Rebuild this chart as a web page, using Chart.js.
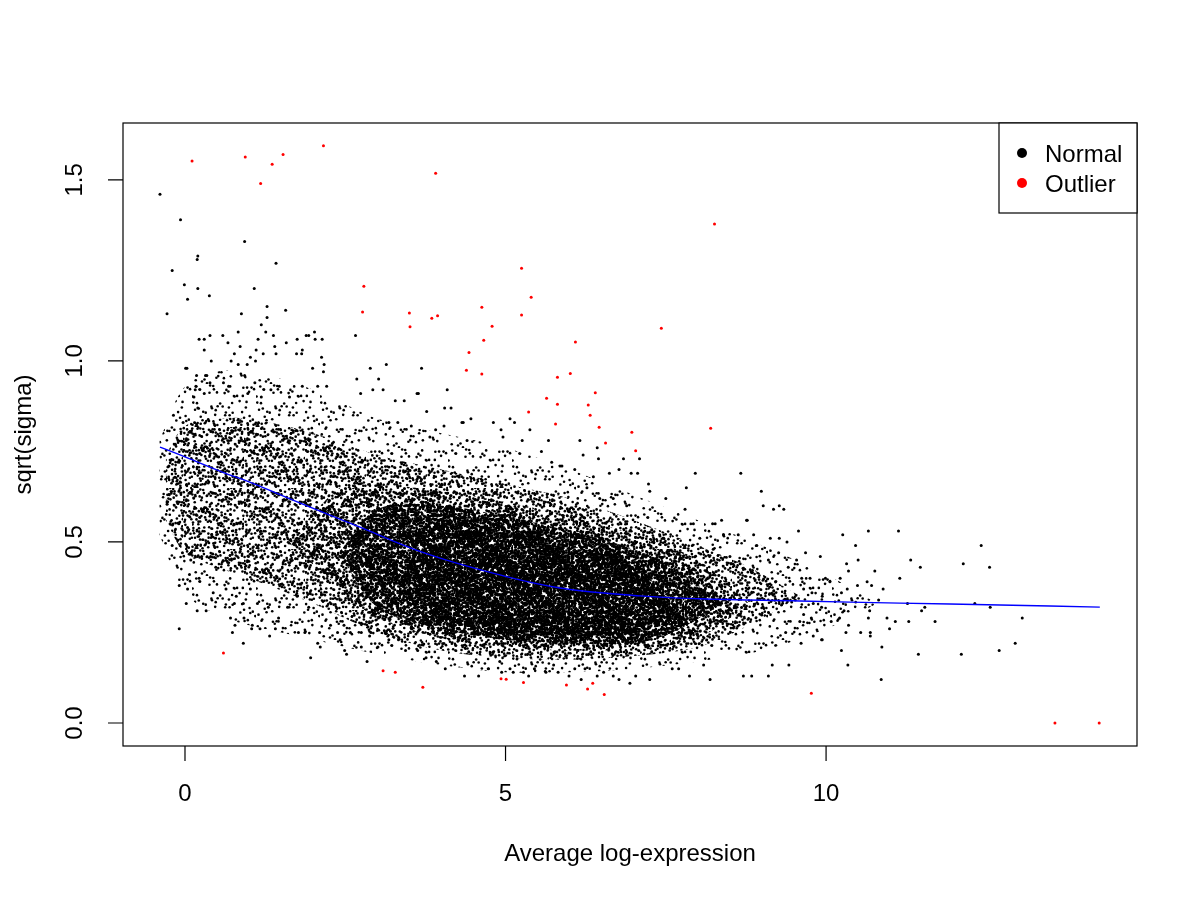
<!DOCTYPE html>
<html>
<head>
<meta charset="utf-8">
<title>sqrt(sigma) vs average log-expression</title>
<script src="https://cdn.jsdelivr.net/npm/chart.js@4.4.1/dist/chart.umd.min.js"></script>
<style>
  html, body { margin: 0; padding: 0; background: #fff; }
  canvas { display: block; }
</style>
</head>
<body>
<canvas id="saChart" width="1200" height="900"></canvas>
<script>
// axis ticks
const xTicks = [0, 5, 10];
const yTicks = [0, 0.5, 1, 1.5];
const yTickLabels = ['0.0', '0.5', '1.0', '1.5'];

// trend line (lowess of sqrt(sigma) on average log-expression)
const trendX = [-0.39, 0.0, 0.61, 1.0, 1.79, 2.73, 3.73, 4.91, 5.85, 7.10, 8.03, 9.59, 11.15, 12.71, 14.27];
const trendY = [0.762, 0.735, 0.691, 0.666, 0.608, 0.541, 0.470, 0.409, 0.373, 0.351, 0.343, 0.337, 0.331, 0.326, 0.320];

// outlier genes (red)
const outlierX = [0.11,0.94,1.53,1.36,2.16,1.18,3.91,2.79,2.77,3.50,3.51,3.85,3.94,4.43,8.26,5.25,5.40,4.63,5.25,4.79,4.66,7.43,6.09,4.39,4.63,5.81,6.01,5.64,6.40,5.81,6.29,6.32,5.36,5.78,6.46,8.20,6.97,6.56,7.03,0.60,3.09,3.28,3.71,4.93,5.01,5.28,5.95,6.28,6.36,6.54,9.77,13.57,14.26];
const outlierY = [1.552,1.563,1.570,1.543,1.594,1.490,1.518,1.206,1.135,1.132,1.094,1.118,1.125,1.023,1.378,1.256,1.176,1.148,1.127,1.096,1.057,1.090,1.052,0.974,0.964,0.955,0.965,0.897,0.912,0.880,0.878,0.850,0.859,0.826,0.817,0.814,0.803,0.773,0.752,0.193,0.144,0.140,0.099,0.122,0.121,0.112,0.105,0.094,0.110,0.079,0.082,0.0,0.0];

// bulk of the normal genes
const outerX  = [-0.4, 0, 0.5, 1, 1.5, 2, 2.5, 3, 4, 5, 6, 7, 8, 9, 10, 10.8];
const outerLo = [0.52, 0.36, 0.30, 0.27, 0.25, 0.23, 0.21, 0.19, 0.16, 0.14, 0.14, 0.15, 0.17, 0.20, 0.26, 0.33];
const outerHi = [0.78, 0.93, 0.97, 0.97, 0.95, 0.92, 0.88, 0.84, 0.80, 0.76, 0.70, 0.63, 0.56, 0.49, 0.41, 0.33];

const midX  = [-0.3, 0, 0.5, 1, 2, 3, 4, 5, 6, 7, 8, 8.8, 9.6];
const midLo = [0.56, 0.47, 0.43, 0.40, 0.33, 0.25, 0.20, 0.18, 0.175, 0.185, 0.21, 0.27, 0.35];
const midHi = [0.74, 0.82, 0.84, 0.84, 0.80, 0.74, 0.70, 0.66, 0.62, 0.56, 0.49, 0.43, 0.35];

const innerX  = [1.6, 2.5, 3, 4, 5, 6, 7, 8, 8.8];
const innerLo = [0.50, 0.36, 0.29, 0.235, 0.21, 0.20, 0.205, 0.235, 0.33];
const innerHi = [0.50, 0.66, 0.66, 0.64, 0.61, 0.57, 0.52, 0.45, 0.33];

const coreX  = [2.4, 3, 4, 5, 6, 7, 7.6, 8.4];
const coreLo = [0.47, 0.32, 0.26, 0.23, 0.22, 0.22, 0.25, 0.33];
const coreHi = [0.47, 0.59, 0.60, 0.57, 0.53, 0.48, 0.43, 0.33];

const deepX  = [3.4, 4, 5, 6, 7, 7.6];
const deepLo = [0.42, 0.29, 0.255, 0.245, 0.25, 0.32];
const deepHi = [0.42, 0.55, 0.53, 0.49, 0.44, 0.32];

// individually visible normal genes [x, y]
const normalTopLeft = [[-0.39,1.46],[-0.07,1.39],[0.93,1.33],[0.20,1.29],[0.19,1.28],[1.42,1.27],[-0.20,1.25],[-0.01,1.21],[0.20,1.20],[1.08,1.20],[0.38,1.18],[0.04,1.17],[1.28,1.15],[-0.28,1.13],[0.88,1.13],[1.57,1.14],[1.28,1.12],[1.19,1.10],[0.22,1.06],[0.39,1.07],[0.30,1.06],[0.59,1.07],[0.83,1.08],[0.67,1.05],[0.86,1.04],[1.14,1.06],[1.26,1.08],[1.38,1.07],[1.58,1.05],[1.75,1.06],[1.89,1.07],[1.93,1.07],[2.02,1.08],[2.03,1.06],[2.14,1.06],[2.66,1.07],[0.30,1.03],[0.77,1.02],[1.11,1.03],[1.40,1.04],[1.42,1.02],[1.74,1.02],[1.83,1.03],[1.82,1.02],[1.22,1.02],[2.13,1.01],[0.41,1.00],[0.72,1.00],[1.02,1.01],[1.10,1.00],[0.83,0.99],[0.97,0.99],[0.03,0.98],[2.17,0.99],[3.14,0.99],[3.69,0.98],[2.89,0.98],[0.34,0.96],[0.18,0.96],[0.60,0.94],[0.39,0.94],[0.93,0.96],[1.09,0.94],[0.68,0.93],[0.16,0.92],[0.98,0.91],[1.19,0.90],[1.34,0.92],[1.47,0.93],[1.63,0.90],[1.83,0.93],[1.99,0.98],[2.16,0.97],[2.07,0.93],[2.21,0.93],[2.68,0.95],[2.93,0.92],[3.02,0.95],[2.74,0.91],[3.42,0.89],[3.62,0.91],[4.09,0.92],[3.28,0.89],[-0.18,0.85],[-0.03,0.83],[0.02,0.78],[-0.15,0.77],[-0.25,0.71],[-0.07,0.65],[-0.04,0.58],[0.04,0.54],[0.09,0.45],[0.20,0.87],[0.14,0.90],[0.30,0.91],[0.17,0.93],[0.01,0.98],[0.32,0.96]];

const normalLowLeft = [[-0.28,0.61],[-0.20,0.49],[-0.04,0.47],[-0.09,0.38],[0.04,0.37],[0.02,0.33],[-0.09,0.26],[0.07,0.41],[0.22,0.40],[0.19,0.31],[0.33,0.31],[0.44,0.36],[0.48,0.43],[0.64,0.37],[0.71,0.29],[0.74,0.25],[0.91,0.22],[1.04,0.26],[1.17,0.26],[1.32,0.24],[1.41,0.26],[0.78,0.27],[1.77,0.25],[1.87,0.25],[2.10,0.25],[1.96,0.18],[2.07,0.22],[2.11,0.21],[2.38,0.25],[2.49,0.20],[2.52,0.19],[2.42,0.23],[2.58,0.25],[2.75,0.21],[2.84,0.17],[2.88,0.24],[3.01,0.21],[3.18,0.23],[3.33,0.23],[3.44,0.20],[3.63,0.20],[3.76,0.18],[3.92,0.17],[4.06,0.15],[0.80,0.35],[0.91,0.33],[0.77,0.33],[0.92,0.29],[1.02,0.37],[1.05,0.27],[1.13,0.33],[1.30,0.32],[1.46,0.29],[1.60,0.32],[1.75,0.35],[1.93,0.32],[2.27,0.27],[2.36,0.29],[2.48,0.27],[2.75,0.25],[2.90,0.25],[0.26,0.46],[0.40,0.46]];

const normalBottom = [[4.36,0.13],[4.58,0.13],[4.94,0.14],[5.07,0.15],[5.28,0.14],[5.36,0.13],[5.63,0.14],[5.82,0.14],[5.99,0.13],[6.18,0.12],[6.53,0.14],[6.94,0.11],[7.03,0.13],[6.68,0.13],[6.77,0.12],[6.43,0.13],[6.24,0.15],[5.75,0.16],[4.91,0.17],[4.73,0.15],[5.12,0.14],[5.45,0.15],[6.08,0.15],[7.25,0.12],[7.70,0.15],[8.09,0.16],[7.60,0.15],[7.87,0.13],[8.19,0.12],[8.71,0.13],[8.84,0.13],[9.10,0.13],[9.16,0.16],[9.42,0.16]];

const normalUpperMid = [[3.77,0.86],[4.05,0.87],[4.15,0.87],[4.46,0.84],[4.81,0.83],[5.07,0.84],[5.14,0.83],[5.38,0.81],[5.26,0.78],[5.56,0.75],[5.72,0.72],[5.85,0.71],[6.08,0.70],[6.16,0.78],[5.67,0.78],[4.96,0.79],[4.40,0.78],[4.04,0.82],[4.34,0.83],[3.53,0.82],[3.32,0.83],[3.18,0.83],[3.82,0.79],[3.91,0.81],[4.93,0.81],[3.09,0.92],[3.64,0.91],[4.32,0.83],[6.21,0.74],[6.43,0.76],[6.45,0.73],[6.84,0.73],[7.09,0.73],[5.88,0.71],[6.77,0.70],[6.37,0.68],[6.62,0.69],[6.96,0.69],[7.06,0.69],[7.96,0.69],[8.67,0.69],[7.23,0.66],[7.82,0.65],[7.25,0.64],[7.50,0.62],[6.68,0.62],[6.89,0.60],[6.27,0.65],[6.47,0.62],[7.80,0.59],[8.76,0.56],[8.37,0.56],[7.93,0.55],[8.27,0.55],[8.63,0.52],[8.87,0.52],[8.03,0.51],[8.24,0.48],[8.50,0.46],[8.66,0.44]];

const normalRight = [[8.99,0.64],[9.02,0.60],[9.18,0.59],[9.27,0.60],[9.34,0.59],[8.77,0.56],[8.23,0.55],[9.13,0.51],[9.27,0.51],[9.39,0.50],[8.92,0.49],[8.40,0.52],[9.54,0.45],[9.26,0.47],[9.10,0.45],[9.41,0.43],[9.62,0.40],[9.75,0.40],[9.65,0.37],[9.78,0.36],[9.52,0.34],[9.80,0.33],[9.93,0.32],[9.65,0.30],[9.77,0.29],[9.59,0.28],[9.37,0.25],[9.80,0.24],[9.93,0.23],[9.61,0.22],[9.57,0.53],[10.26,0.52],[10.66,0.53],[11.13,0.53],[10.46,0.49],[12.42,0.49],[9.68,0.47],[9.91,0.46],[10.50,0.45],[10.32,0.44],[11.32,0.45],[12.14,0.44],[12.55,0.43],[11.47,0.43],[10.35,0.42],[10.76,0.42],[10.22,0.40],[11.15,0.40],[9.99,0.40],[10.06,0.39],[10.49,0.38],[10.64,0.39],[10.71,0.38],[10.89,0.37],[10.24,0.36],[10.33,0.37],[9.94,0.35],[10.82,0.34],[11.27,0.33],[12.32,0.33],[12.56,0.32],[11.54,0.32],[11.49,0.31],[10.68,0.31],[10.28,0.31],[10.21,0.29],[13.06,0.29],[10.95,0.29],[11.08,0.28],[11.29,0.28],[11.70,0.28],[10.66,0.29],[10.08,0.28],[10.35,0.27],[10.99,0.26],[10.54,0.25],[10.69,0.25],[10.31,0.25],[10.69,0.24],[9.94,0.23],[12.95,0.22],[10.87,0.21],[10.24,0.20],[12.70,0.20],[11.44,0.19],[12.11,0.19],[10.34,0.16],[10.86,0.12]];

const FONT = '"Liberation Sans", Arial, Helvetica, sans-serif';

function toXY(xs, ys) {
  return xs.map((v, i) => ({x: v, y: ys[i]}));
}
function pairsToXY(list) {
  return list.map(p => ({x: p[0], y: p[1]}));
}

// dotted fill so the density bands read like many small points
function speckle(count, size, start) {
  const c = document.createElement('canvas');
  c.width = size; c.height = size;
  const g = c.getContext('2d');
  g.fillStyle = '#000';
  for (let k = start; k < start + count; k++) {
    const px = ((k * 0.7548776662) % 1) * size;
    const py = ((k * 0.5698402910 + k * k * 0.00071) % 1) * size;
    g.beginPath();
    g.arc(px, py, 1.3, 0, Math.PI * 2);
    g.fill();
  }
  return g.createPattern(c, 'repeat');
}

function band(xs, ys, color, fill, order) {
  return {
    type: 'line',
    data: toXY(xs, ys),
    borderColor: 'transparent',
    borderWidth: 0,
    pointRadius: 0,
    tension: 0.35,
    backgroundColor: color,
    fill: fill,
    order: order
  };
}

// draws the R style frame, axes, labels and legend
const rFrame = {
  id: 'rFrame',
  afterDraw(chart) {
    const ctx = chart.ctx;
    const a = chart.chartArea;
    const xs = chart.scales.x, ys = chart.scales.y;
    ctx.save();
    ctx.strokeStyle = '#000';
    ctx.fillStyle = '#000';
    ctx.lineWidth = 1.2;
    ctx.strokeRect(a.left, a.top, a.right - a.left, a.bottom - a.top);

    ctx.beginPath();
    xTicks.forEach(v => {
      const px = xs.getPixelForValue(v);
      ctx.moveTo(px, a.bottom);
      ctx.lineTo(px, a.bottom + 15);
    });
    yTicks.forEach(v => {
      const py = ys.getPixelForValue(v);
      ctx.moveTo(a.left, py);
      ctx.lineTo(a.left - 15, py);
    });
    ctx.stroke();

    ctx.font = '24px ' + FONT;
    ctx.textAlign = 'center';
    ctx.textBaseline = 'alphabetic';
    xTicks.forEach(v => ctx.fillText(String(v), xs.getPixelForValue(v), a.bottom + 55));
    ctx.fillText('Average log-expression', (a.left + a.right) / 2, a.bottom + 115);

    yTicks.forEach((v, i) => {
      ctx.save();
      ctx.translate(a.left - 41, ys.getPixelForValue(v));
      ctx.rotate(-Math.PI / 2);
      ctx.fillText(yTickLabels[i], 0, 0);
      ctx.restore();
    });
    ctx.save();
    ctx.translate(a.left - 92, (a.top + a.bottom) / 2);
    ctx.rotate(-Math.PI / 2);
    ctx.fillText('sqrt(sigma)', 0, 0);
    ctx.restore();

    // legend box in the top right corner
    const lw = 138, lh = 90;
    const lx = a.right - lw, ly = a.top;
    ctx.fillStyle = '#fff';
    ctx.fillRect(lx, ly, lw, lh);
    ctx.strokeRect(lx, ly, lw, lh);
    const items = [['Normal', '#000'], ['Outlier', '#ff0000']];
    ctx.textAlign = 'left';
    items.forEach((it, i) => {
      const cy = ly + 30 + i * 30;
      ctx.fillStyle = it[1];
      ctx.beginPath();
      ctx.arc(lx + 23, cy, 5, 0, Math.PI * 2);
      ctx.fill();
      ctx.fillStyle = '#000';
      ctx.fillText(it[0], lx + 46, cy + 9);
    });
    ctx.restore();
  }
};

const normalAll = [].concat(normalTopLeft, normalLowLeft, normalBottom, normalUpperMid, normalRight);

new Chart(document.getElementById('saChart'), {
  type: 'scatter',
  data: {
    datasets: [
      {
        type: 'line',
        label: 'trend',
        data: toXY(trendX, trendY),
        borderColor: '#0000ff',
        borderWidth: 1.4,
        pointRadius: 0,
        tension: 0.4,
        fill: false,
        order: 0
      },
      {
        label: 'Outlier',
        data: toXY(outlierX, outlierY),
        backgroundColor: '#ff0000',
        borderWidth: 0,
        pointRadius: 1.5,
        order: 1
      },
      {
        label: 'Normal',
        data: pairsToXY(normalAll),
        backgroundColor: '#000',
        borderWidth: 0,
        pointRadius: 1.5,
        order: 2
      },
      band(deepX, deepHi, speckle(300, 53, 11), '+1', 3),
      band(deepX, deepLo, 'transparent', false, 3),
      band(coreX, coreHi, speckle(620, 57, 7), '+1', 4),
      band(coreX, coreLo, 'transparent', false, 4),
      band(innerX, innerHi, speckle(210, 59, 5), '+1', 5),
      band(innerX, innerLo, 'transparent', false, 5),
      band(midX, midHi, speckle(250, 61, 3), '+1', 6),
      band(midX, midLo, 'transparent', false, 6),
      band(outerX, outerHi, speckle(85, 64, 1), '+1', 7),
      band(outerX, outerLo, 'transparent', false, 7)
    ]
  },
  options: {
    responsive: false,
    animation: false,
    events: [],
    layout: { padding: { left: 123, right: 63, top: 123, bottom: 154 } },
    scales: {
      x: { type: 'linear', min: -0.967, max: 14.85, display: false },
      y: { type: 'linear', min: -0.0635, max: 1.657, display: false }
    },
    plugins: {
      legend: { display: false },
      tooltip: { enabled: false }
    }
  },
  plugins: [rFrame]
});
</script>
</body>
</html>
